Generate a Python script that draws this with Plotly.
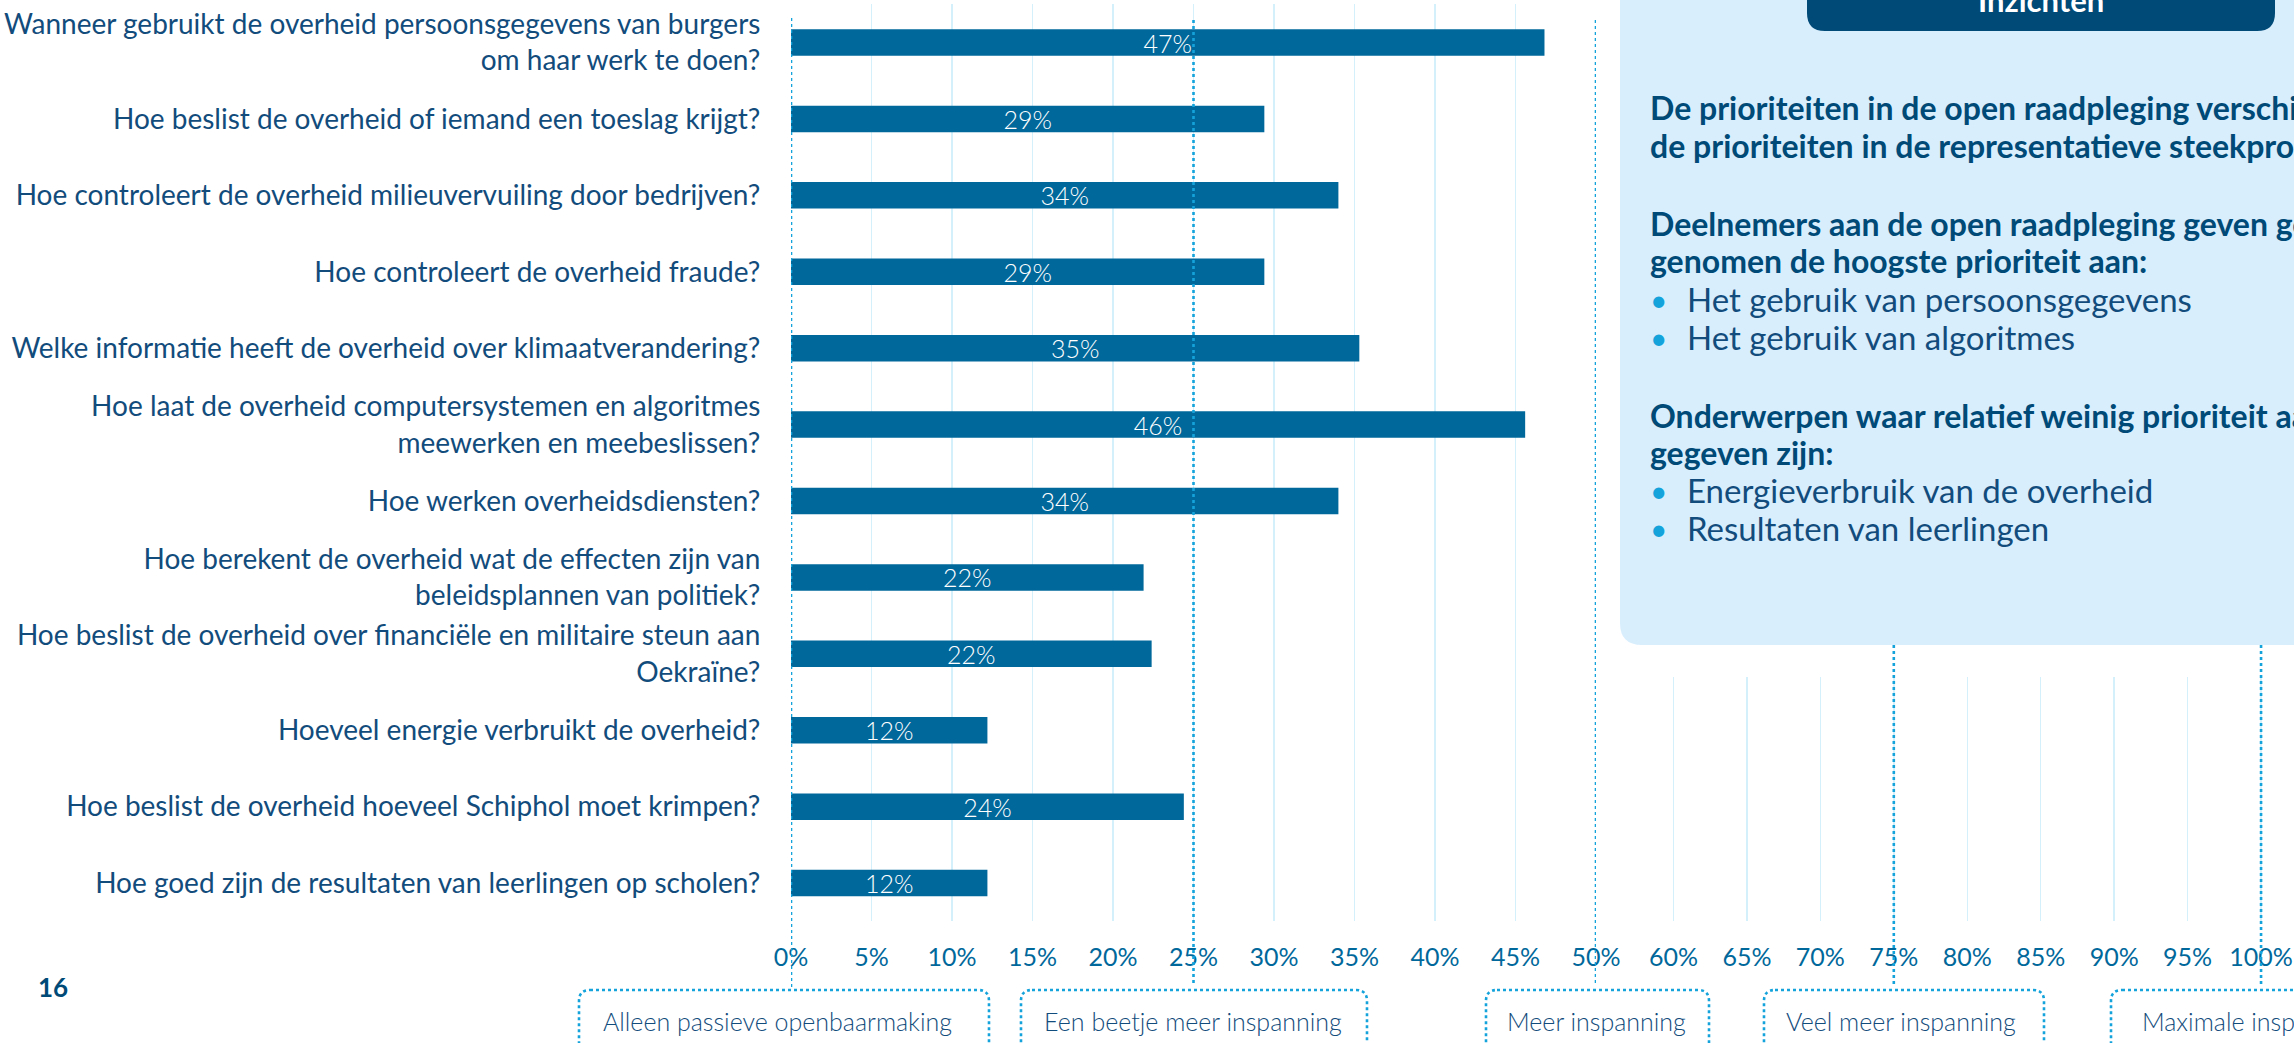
import plotly.graph_objects as go

W, H = 2294, 1043

# ---------------- data ----------------
categories = [
    "Wanneer gebruikt de overheid persoonsgegevens van burgers<br>om haar werk te doen?",
    "Hoe beslist de overheid of iemand een toeslag krijgt?",
    "Hoe controleert de overheid milieuvervuiling door bedrijven?",
    "Hoe controleert de overheid fraude?",
    "Welke informatie heeft de overheid over klimaatverandering?",
    "Hoe laat de overheid computersystemen en algoritmes<br>meewerken en meebeslissen?",
    "Hoe werken overheidsdiensten?",
    "Hoe berekent de overheid wat de effecten zijn van<br>beleidsplannen van politiek?",
    "Hoe beslist de overheid over financiële en militaire steun aan<br>Oekraïne?",
    "Hoeveel energie verbruikt de overheid?",
    "Hoe beslist de overheid hoeveel Schiphol moet krimpen?",
    "Hoe goed zijn de resultaten van leerlingen op scholen?",
]
values = [46.8, 29.4, 34.0, 29.4, 35.3, 45.6, 34.0, 21.9, 22.4, 12.2, 24.4, 12.2]

left_ticks = [0, 5, 10, 15, 20, 25, 30, 35, 40, 45, 50]
right_ticks = [60, 65, 70, 75, 80, 85, 90, 95, 100]

effort_levels = [
    "Alleen passieve openbaarmaking",
    "Een beetje meer inspanning",
    "Meer inspanning",
    "Veel meer inspanning",
    "Maximale inspanning",
]
effort_marks = [0, 25, 50, 75, 100]

insight_title = "Inzichten"
insight_lines = [
    ("De prioriteiten in de open raadpleging verschillen van", "bold"),
    ("de prioriteiten in de representatieve steekproef.", "bold"),
    ("Deelnemers aan de open raadpleging geven gemiddeld", "bold"),
    ("genomen de hoogste prioriteit aan:", "bold"),
    ("Het gebruik van persoonsgegevens", "bullet"),
    ("Het gebruik van algoritmes", "bullet"),
    ("Onderwerpen waar relatief weinig prioriteit aan", "bold"),
    ("gegeven zijn:", "bold"),
    ("Energieverbruik van de overheid", "bullet"),
    ("Resultaten van leerlingen", "bullet"),
]
page_number = "16"

# ---------------- styling ----------------
FONT = "Lato"
BAR = "#01689B"
TXT = "#124C7C"
DARK = "#004A77"
CYAN = "#14A3DB"
GRID = "#D4F0FA"
BOXBG = "#D8EEFD"


def px(x):
    return x / W


def py(y):
    return 1 - y / H


def rounded_path(x0, y0, x1, y1, r):
    pts = [
        ("M", x0 + r, y0), ("L", x1 - r, y0), ("Q", x1, y0, x1, y0 + r),
        ("L", x1, y1 - r), ("Q", x1, y1, x1 - r, y1), ("L", x0 + r, y1),
        ("Q", x0, y1, x0, y1 - r), ("L", x0, y0 + r), ("Q", x0, y0, x0 + r, y0),
    ]
    s = ""
    for p in pts:
        if p[0] == "Q":
            s += f"Q{px(p[1]):.5f},{py(p[2]):.5f} {px(p[3]):.5f},{py(p[4]):.5f} "
        else:
            s += f"{p[0]}{px(p[1]):.5f},{py(p[2]):.5f} "
    return s + "Z"


fig = go.Figure()

fig.add_trace(go.Bar(
    x=values, y=categories, orientation="h",
    marker=dict(color=BAR, line=dict(width=0)),
    texttemplate="%{x:.0f}%", textposition="inside", insidetextanchor="middle",
    textangle=0, constraintext="none",
    textfont=dict(family=FONT, size=25, color="white", weight=300),
    hoverinfo="skip", showlegend=False,
    xaxis="x", yaxis="y",
))
fig.add_trace(go.Scatter(x=[None], y=[None], xaxis="x2", yaxis="y2",
                         showlegend=False, hoverinfo="skip"))

y_top, y_bot = 4.3, 921.3
x0_px, x50_px = 791, 1596
x2_start_px = 1600
px_per_unit2 = 14.69

fig.update_layout(
    width=W, height=H, template="none",
    margin=dict(l=0, r=0, t=0, b=0, autoexpand=False),
    paper_bgcolor="white", plot_bgcolor="rgba(0,0,0,0)",
    bargap=0.654, showlegend=False,
    xaxis=dict(
        domain=[px(x0_px), px(x50_px)], range=[0, 50], anchor="y",
        tickvals=left_ticks, ticktext=[f"{t}%" for t in left_ticks],
        showgrid=True, gridcolor=GRID, gridwidth=1.5, zeroline=False,
        showline=False, ticks="outside", ticklen=14, tickcolor="rgba(0,0,0,0)",
        tickfont=dict(family=FONT, size=25, color=BAR), automargin=False,
    ),
    yaxis=dict(
        domain=[py(y_bot), py(y_top)], anchor="x", type="category",
        autorange="reversed", showgrid=False, zeroline=False, showline=False,
        ticks="outside", ticklen=24, tickcolor="rgba(0,0,0,0)",
        tickfont=dict(family=FONT, size=28, color=TXT), automargin=False,
    ),
    xaxis2=dict(
        domain=[px(x2_start_px), 1],
        range=[55, 55 + (W - x2_start_px) / px_per_unit2], anchor="y2",
        tickvals=right_ticks, ticktext=[f"{t}%" for t in right_ticks],
        showgrid=True, gridcolor=GRID, gridwidth=1.5, zeroline=False,
        showline=False, ticks="outside", ticklen=14, tickcolor="rgba(0,0,0,0)",
        tickfont=dict(family=FONT, size=25, color=BAR), automargin=False,
    ),
    yaxis2=dict(
        domain=[py(y_bot), py(677)], anchor="x2", range=[0, 1],
        visible=False, showgrid=False,
    ),
)

shapes = []
# insight panel
shapes.append(dict(type="path", xref="paper", yref="paper",
                   path=rounded_path(1620, -60, 2360, 645, 22),
                   fillcolor=BOXBG, line=dict(width=0), layer="above"))
shapes.append(dict(type="path", xref="paper", yref="paper",
                   path=rounded_path(1807, -60, 2275, 31, 18),
                   fillcolor=DARK, line=dict(width=0), layer="above"))

# dotted effort markers
dot_spans = {0: (18, 988), 25: (20, 984), 50: (20, 983), 75: (645, 986), 100: (645, 986)}
for m in effort_marks:
    xr = "x" if m <= 50 else "x2"
    ya, yb = dot_spans[m]
    shapes.append(dict(type="line", xref=xr, yref="paper", x0=m, x1=m,
                       y0=py(ya), y1=py(yb),
                       line=dict(color=CYAN, width=2.6, dash="dot"), layer="above"))

# effort boxes at the bottom
box_px = [(579, 989), (1021, 1367), (1486, 1709), (1764, 2044), (2111, 2401)]
text_cx = [777, 1193, 1596, 1901, 2254]
for (bx0, bx1) in box_px:
    shapes.append(dict(type="path", xref="paper", yref="paper",
                       path=rounded_path(bx0, 990, bx1, 1090, 11),
                       line=dict(color=CYAN, width=2.6, dash="dot"),
                       fillcolor="rgba(0,0,0,0)", layer="above"))
fig.update_layout(shapes=shapes)

ann = []
for lbl, cx in zip(effort_levels, text_cx):
    ann.append(dict(text=lbl, x=px(cx), y=py(1021), xref="paper", yref="paper",
                    xanchor="center", yanchor="middle", showarrow=False,
                    font=dict(family=FONT, size=25, color=TXT, weight=300)))

ann.append(dict(text=f"<b>{insight_title}</b>", x=px(2041), y=py(0),
                xref="paper", yref="paper", xanchor="center", yanchor="middle",
                showarrow=False, font=dict(family=FONT, size=31, color="white")))

line_y = [107, 145, 223, 260, 299, 337, 415, 452, 490, 528]
for (txt, kind), ly in zip(insight_lines, line_y):
    if kind == "bold":
        ann.append(dict(text=f"<b>{txt}</b>", x=px(1648), y=py(ly), xref="paper",
                        yref="paper", xanchor="left", yanchor="middle", showarrow=False,
                        font=dict(family=FONT, size=32, color=DARK)))
    else:
        ann.append(dict(text="•", x=px(1648), y=py(ly), xref="paper", yref="paper",
                        xanchor="left", yanchor="middle", showarrow=False,
                        font=dict(family=FONT, size=30, color=CYAN)))
        ann.append(dict(text=txt, x=px(1685), y=py(ly), xref="paper", yref="paper",
                        xanchor="left", yanchor="middle", showarrow=False,
                        font=dict(family=FONT, size=33, color=TXT)))

ann.append(dict(text=f"<b>{page_number}</b>", x=px(53), y=py(987), xref="paper",
                yref="paper", xanchor="center", yanchor="middle", showarrow=False,
                font=dict(family=FONT, size=26, color=DARK)))

fig.update_layout(annotations=ann)

fig.write_html("out.html", config={"displayModeBar": False, "staticPlot": True},
               post_script="document.body.style.margin='0px';")
